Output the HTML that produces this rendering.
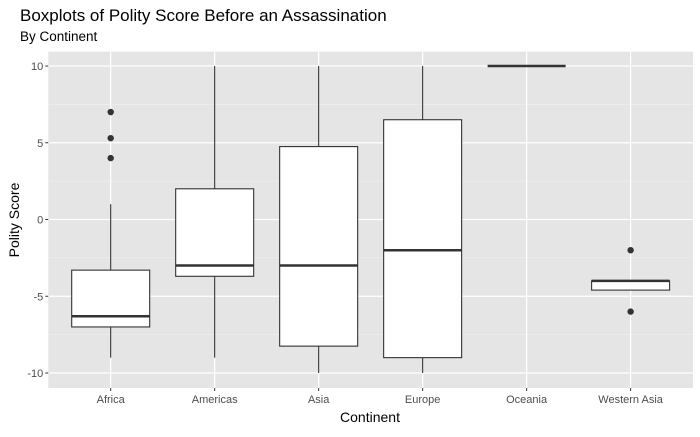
<!DOCTYPE html>
<html><head><meta charset="utf-8">
<style>
body{margin:0;background:#fff;font-family:"Liberation Sans",Arial,sans-serif;}
svg text{font-family:"Liberation Sans",Arial,sans-serif;}
</style></head>
<body>
<svg id="chart" width="700" height="432" xmlns="http://www.w3.org/2000/svg">
<text x="20" y="21" font-size="17" fill="#000">Boxplots of Polity Score Before an Assassination</text>
<text x="20" y="41" font-size="13.5" fill="#000">By Continent</text>
<rect x="48.3" y="51.7" width="644.7" height="336.3" fill="#e5e5e5"/>
<g id="grid"></g>
<g id="boxes"></g>
<g id="axes"></g>
<text x="370" y="422" font-size="14" text-anchor="middle">Continent</text>
<text transform="translate(19,220) rotate(-90)" font-size="14" text-anchor="middle">Polity Score</text>
</svg>
<script>
const categories=["Africa","Americas","Asia","Europe","Oceania","Western Asia"];
const q1=[-7,-3.7,-8.25,-9,10,-4.6];
const medians=[-6.3,-3,-3,-2,10,-4];
const q3=[-3.3,2,4.75,6.5,10,-4];
const whiskerLow=[-9,-9,-10,-10,10,-4.6];
const whiskerHigh=[1,10,10,10,10,-4];
const outliers=[[7,5.3,4],[],[],[],[],[-2,-6]];
const yTicks=[-10,-5,0,5,10];

const NS="http://www.w3.org/2000/svg";
const x0=48.3,x1=693,y0=51.7,y1=388;
const step=(x1-x0)/(categories.length+0.2);
const xs=i=>x0+step*(0.6+i);
const ys=v=>373-(v+10)/20*307;
function mk(p,tag,attrs){const e=document.createElementNS(NS,tag);for(const k in attrs)e.setAttribute(k,attrs[k]);p.appendChild(e);return e;}
const grid=document.getElementById('grid'),boxes=document.getElementById('boxes'),axes=document.getElementById('axes');
for(let t=-7.5;t<=7.5;t+=5){const l=mk(grid,'line',{x1:x0,x2:x1,y1:ys(t),y2:ys(t),stroke:'#f2f2f2','stroke-width':0.6});

}
yTicks.forEach(t=>{const l=mk(grid,'line',{x1:x0,x2:x1,y1:ys(t),y2:ys(t),stroke:'#fff','stroke-width':1.2});


const tk=mk(axes,'line',{x1:x0-3,x2:x0,y1:ys(t),y2:ys(t),stroke:'#333'});


const tx=mk(axes,'text',{x:x0-5,y:ys(t)+4,'font-size':11,'text-anchor':'end',fill:'#4d4d4d'});tx.textContent=t;

});
categories.forEach((c,i)=>{const x=xs(i);
const l=mk(grid,'line',{x1:x,x2:x,y1:y0,y2:y1,stroke:'#fff','stroke-width':1.2});


const tk=mk(axes,'line',{x1:x,x2:x,y1:y1,y2:y1+3,stroke:'#333'});


const tx=mk(axes,'text',{x:x,y:y1+15,'font-size':11,'text-anchor':'middle',fill:'#4d4d4d'});tx.textContent=c;


const g=mk(boxes,'g',{});


const w=step*0.75;
mk(g,'line',{x1:x,x2:x,y1:ys(whiskerHigh[i]),y2:ys(q3[i]),stroke:'#333','stroke-width':1.1});
mk(g,'line',{x1:x,x2:x,y1:ys(q1[i]),y2:ys(whiskerLow[i]),stroke:'#333','stroke-width':1.1});
mk(g,'rect',{x:x-w/2,y:ys(q3[i]),width:w,height:Math.max(0,ys(q1[i])-ys(q3[i])),fill:'#fff',stroke:'#333','stroke-width':1.1});
mk(g,'line',{x1:x-w/2,x2:x+w/2,y1:ys(medians[i]),y2:ys(medians[i]),stroke:'#333','stroke-width':2.5});
outliers[i].forEach(v=>{const p=mk(g,'circle',{cx:x,cy:ys(v),r:3.2,fill:'#333'});

});
});
</script>
</body></html>
